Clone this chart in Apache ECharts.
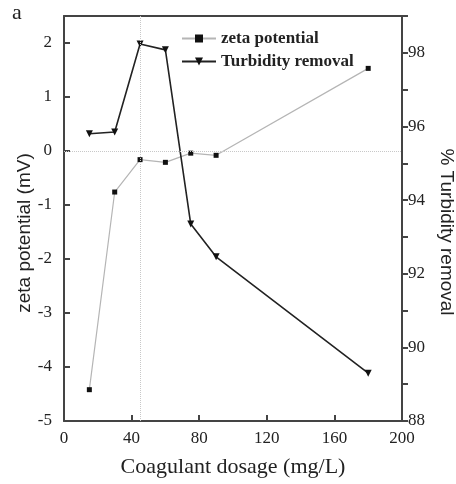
<!DOCTYPE html>
<html>
<head>
<meta charset="utf-8">
<script src="https://cdn.jsdelivr.net/npm/echarts@6/dist/echarts.min.js"></script>
<style>
  html, body {margin: 0; padding: 0; background: #fff;}
  #chart {width: 456px; height: 484px;}
</style>
</head>
<body>
<div id="chart"></div>
<script>
const dosage = [15, 30, 45, 60, 75, 90, 180]
const zeta = [-4.42, -0.76, -0.16, -0.21, -0.04, -0.08, 1.53]
const turbidity = [95.8, 95.85, 98.24, 98.08, 93.35, 92.46, 89.3]
const optimumDose = 45

const serif = 'Liberation Serif'
const axisColor = '#444'
const textColor = '#222'

const chart = echarts.init(document.getElementById('chart'))

chart.setOption({
  backgroundColor: '#fff',
  animation: false,
  grid: {left: 64, right: 54, top: 16, bottom: 63},
  legend: {
    orient: 'vertical',
    left: 176,
    top: 25,
    itemGap: 6,
    itemWidth: 34,
    itemHeight: 10,
    textStyle: {fontFamily: serif, fontSize: 17, fontWeight: 'bold', color: textColor},
    data: ['zeta potential', 'Turbidity removal'],
  },
  xAxis: [{
    type: 'value',
    min: 0,
    max: 200,
    interval: 40,
    name: 'Coagulant dosage (mg/L)',
    nameLocation: 'middle',
    nameGap: 35,
    nameTextStyle: {fontFamily: serif, fontSize: 22, color: textColor},
    axisLine: {onZero: false, lineStyle: {color: axisColor, width: 2}},
    axisTick: {inside: true, length: 6, lineStyle: {color: axisColor, width: 2}},
    axisLabel: {fontFamily: serif, fontSize: 17, color: textColor, margin: 9},
    splitLine: {show: false},
  }, {
    // top frame line
    type: 'value',
    position: 'top',
    min: 0,
    max: 200,
    axisLine: {show: true, onZero: false, lineStyle: {color: axisColor, width: 2}},
    axisTick: {show: false},
    axisLabel: {show: false},
    splitLine: {show: false},
  }],
  yAxis: [{
    type: 'value',
    min: -5,
    max: 2.5,
    interval: 1,
    axisLine: {show: true, onZero: false, lineStyle: {color: axisColor, width: 2}},
    axisTick: {show: true, inside: true, length: 6, lineStyle: {color: axisColor, width: 2}},
    axisLabel: {fontFamily: serif, fontSize: 17, color: textColor, margin: 12, showMaxLabel: false},
    splitLine: {show: false},
  }, {
    type: 'value',
    position: 'right',
    min: 88,
    max: 99,
    interval: 2,
    axisLine: {show: true, onZero: false, lineStyle: {color: axisColor, width: 2}},
    axisTick: {show: true, length: 6, lineStyle: {color: axisColor, width: 2}},
    minorTick: {show: true, splitNumber: 2, length: 6, lineStyle: {color: axisColor, width: 2}},
    axisLabel: {fontFamily: serif, fontSize: 17, color: textColor, margin: 6, showMaxLabel: false},
    splitLine: {show: false},
  }],
  graphic: [{
    type: 'text',
    left: 12,
    top: 2,
    style: {text: 'a', font: '22px "Liberation Serif"', fill: textColor},
  }, {
    type: 'text',
    x: 25,
    y: 233,
    rotation: Math.PI / 2,
    style: {
      text: 'zeta potential (mV)', font: '19px "Liberation Sans"', fill: textColor,
      align: 'center', verticalAlign: 'middle',
    },
  }, {
    type: 'text',
    x: 446,
    y: 232,
    rotation: -Math.PI / 2,
    style: {
      text: '% Turbidity removal', font: '19px "Liberation Sans"', fill: textColor,
      align: 'center', verticalAlign: 'middle',
    },
  }],
  series: [{
    name: 'zeta potential',
    type: 'line',
    yAxisIndex: 0,
    data: dosage.map((d, i) => [d, zeta[i]]),
    symbol: 'rect',
    symbolSize: 5,
    lineStyle: {color: '#b5b5b5', width: 1.2},
    itemStyle: {color: '#111'},
    markLine: {
      silent: true,
      symbol: 'none',
      label: {show: false},
      lineStyle: {color: '#c8c8c8', type: 'dotted', width: 1},
      data: [{xAxis: optimumDose}, {yAxis: 0}],
    },
  }, {
    name: 'Turbidity removal',
    type: 'line',
    yAxisIndex: 1,
    data: dosage.map((d, i) => [d, turbidity[i]]),
    symbol: 'triangle',
    symbolRotate: 180,
    symbolSize: 7,
    lineStyle: {color: '#222', width: 1.6},
    itemStyle: {color: '#111'},
  }],
})
</script>
</body>
</html>
